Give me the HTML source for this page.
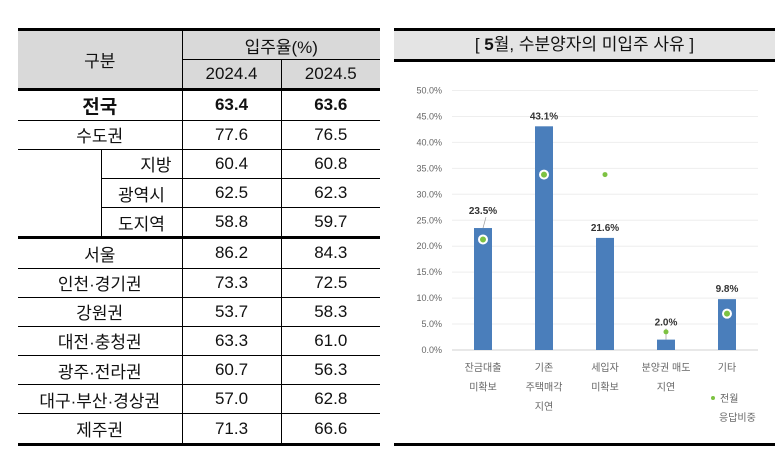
<!DOCTYPE html>
<html><head><meta charset="utf-8"><style>
body{margin:0;width:784px;height:474px;background:#fff;position:relative;overflow:hidden;font-family:"Liberation Sans","Noto Sans CJK KR",sans-serif}
table{position:absolute;left:18px;top:28px;border-collapse:collapse;width:362px;table-layout:fixed}
td{height:28.2px;border:1px solid #000;text-align:center;font-size:17px;padding:0;color:#111}
.h{background:#d9d9d9}
.b{font-weight:bold}
.tt{border-top:3px solid #000}
</style></head><body>
<table>
<colgroup><col style="width:83px"><col style="width:81px"><col style="width:99px"><col style="width:99px"></colgroup>
<tr style="border-top:3px solid #000"><td class="h" colspan="2" rowspan="2" style="border-left:none">구분</td><td class="h" colspan="2" style="border-right:none">입주율(%)</td></tr>
<tr><td class="h">2024.4</td><td class="h" style="border-right:none">2024.5</td></tr>
<tr class="tt"><td colspan="2" class="b" style="font-size:19px;border-left:none">전국</td><td class="b">63.4</td><td class="b" style="border-right:none">63.6</td></tr>
<tr><td colspan="2" style="border-left:none">수도권</td><td>77.6</td><td style="border-right:none">76.5</td></tr>
<tr><td rowspan="3" style="border-left:none;border-bottom:none"></td><td style="border-left:none;text-align:right;padding-right:10px">지방</td><td>60.4</td><td style="border-right:none">60.8</td></tr>
<tr><td>광역시</td><td>62.5</td><td style="border-right:none">62.3</td></tr>
<tr><td>도지역</td><td>58.8</td><td style="border-right:none">59.7</td></tr>
<tr class="tt"><td colspan="2" style="border-left:none">서울</td><td>86.2</td><td style="border-right:none">84.3</td></tr>
<tr><td colspan="2" style="border-left:none">인천·경기권</td><td>73.3</td><td style="border-right:none">72.5</td></tr>
<tr><td colspan="2" style="border-left:none">강원권</td><td>53.7</td><td style="border-right:none">58.3</td></tr>
<tr><td colspan="2" style="border-left:none">대전·충청권</td><td>63.3</td><td style="border-right:none">61.0</td></tr>
<tr><td colspan="2" style="border-left:none">광주·전라권</td><td>60.7</td><td style="border-right:none">56.3</td></tr>
<tr><td colspan="2" style="border-left:none">대구·부산·경상권</td><td>57.0</td><td style="border-right:none">62.8</td></tr>
<tr style="border-bottom:3px solid #000"><td colspan="2" style="border-left:none">제주권</td><td>71.3</td><td style="border-right:none">66.6</td></tr>
</table>
<div style="position:absolute;left:394px;top:28px;width:381px;height:28px;background:#e4e4e4;border-top:3px solid #000;border-bottom:3px solid #000;text-align:center;line-height:28px;font-size:17px;color:#111">[ <b>5</b>월, 수분양자의 미입주 사유 ]</div>
<div style="position:absolute;left:394px;top:443px;width:381px;height:3px;background:#000"></div>
<svg id="c" width="784" height="474" style="position:absolute;left:0;top:0"></svg>
<script>
const categories=[["잔금대출","미확보"],["기존","주택매각","지연"],["세입자","미확보"],["분양권 매도","지연"],["기타"]];
const current=[23.5,43.1,21.6,2.0,9.8];
const previous=[21.3,33.8,33.8,3.5,7.0];
const ticks=[0,5,10,15,20,25,30,35,40,45,50];
const svg=document.getElementById('c');const NS='http://www.w3.org/2000/svg';
const y=v=>350-v*5.19, x=i=>483+i*61;
function mk(t,a,txt){const e=document.createElementNS(NS,t);for(const k in a)e.setAttribute(k,a[k]);if(txt!=null)e.textContent=txt;svg.appendChild(e);return e;}
ticks.forEach(t=>{
const g=mk('line',{x1:452,x2:758,y1:y(t),y2:y(t),stroke:t?'#eeeeee':'#d0d0d0','stroke-width':1});


const l=mk('text',{x:442,y:y(t)+3,'text-anchor':'end','font-size':9,fill:'#666'},t.toFixed(1)+'%');


});
current.forEach((v,i)=>{
const b=mk('rect',{x:x(i)-9,y:y(v),width:18,height:y(0)-y(v),fill:'#4a7ebb'});


const ly=(i==0||i==3)?y(v)-14:y(v)-7;
const t=mk('text',{x:x(i),y:ly,'text-anchor':'middle','font-size':10,'font-weight':'bold',fill:'#333'},v.toFixed(1)+'%');


if(i==0||i==3){mk('line',{x1:x(i)+(i==0?3:0),y1:ly+3,x2:x(i),y2:y(v),stroke:'#999','stroke-width':0.7});}
categories[i].forEach((s,k)=>{
const c=mk('text',{x:x(i),y:371+k*19.5,'text-anchor':'middle','font-size':10,fill:'#666'},s);


});
});
previous.forEach((v,i)=>{
const onBar=v<current[i];
const d=mk('circle',{cx:x(i),cy:y(v),r:onBar?4:2.5,fill:'#7dc242',stroke:onBar?'#fff':'none','stroke-width':2});


});
const ld=mk('circle',{cx:713,cy:398,r:2,fill:'#7dc242'});


const lt=mk('text',{x:720,y:402,'font-size':10,fill:'#666'},'전월');


const lt2=mk('text',{x:719,y:421,'font-size':10,fill:'#666'},'응답비중');


</script>
</body></html>
